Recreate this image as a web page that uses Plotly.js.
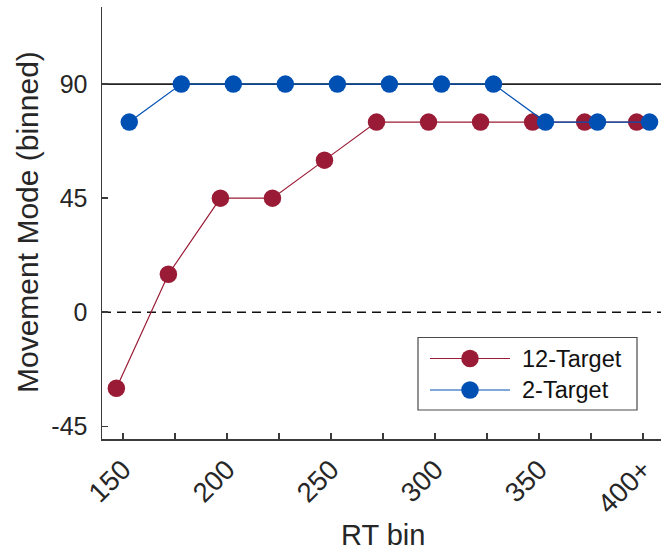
<!DOCTYPE html>
<html>
<head>
<meta charset="utf-8">
<script src="https://cdn.plot.ly/plotly-3.0.1.min.js"></script>
<style>html,body{margin:0;padding:0;background:#fff;}#chart{width:661px;height:552px;}</style>
</head>
<body>
<div id="chart"></div>
<script>
// RT bins (x categories, positioned numerically)
const rtBins = [150, 175, 200, 225, 250, 275, 300, 325, 350, 375, 400];
const tickLabels = ['150', '', '200', '', '250', '', '300', '', '350', '', '400+'];
// Movement mode (binned) per RT bin
const target12 = [-30, 15, 45, 45, 60, 75, 75, 75, 75, 75, 75];
const target2  = [75, 90, 90, 90, 90, 90, 90, 90, 75, 75, 75];
const seriesNames = ['12-Target', '2-Target'];
const yTicks = [-45, 0, 45, 90];
const yTickLabels = ['-45', '0', '45', '90'];
const refLevel = 90;
const zeroLevel = 0;

const DODGE = 3.1;
const red = '#9a1b35';
const blue = '#0050b4';
const axisCol = '#3a3a3a';
const txtCol = '#262626';
const fontFam = 'Liberation Sans, Arial, Helvetica, sans-serif';

// plot area geometry (px)
const M = {l: 102, r: 0, t: 7, b: 113};
const W = 661, H = 552;
const PW = W - M.l - M.r, PH = H - M.t - M.b;
const px2x = p => (p - M.l) / PW;
const px2y = p => (H - M.b - p) / PH;

const traces = [
  {
    x: rtBins.map(v => v - DODGE), y: target12, name: seriesNames[0],
    type: 'scatter', mode: 'lines+markers',
    line: {color: red, width: 1.2},
    marker: {color: red, size: 17.5},
    cliponaxis: false
  },
  {
    x: rtBins.map(v => v + DODGE), y: target2, name: seriesNames[1],
    type: 'scatter', mode: 'lines+markers',
    line: {color: blue, width: 1.2},
    marker: {color: blue, size: 17.5},
    cliponaxis: false
  }
];

// legend geometry (px)
const LG = {x0: 418, x1: 637, y0: 337.5, y1: 410, rows: [358.5, 390], lx0: 430, lx1: 510, mx: 470, tx: 520};
const legendColors = [red, blue];

const shapes = [
  {type: 'line', xref: 'paper', x0: 0, x1: 1, yref: 'y', y0: refLevel, y1: refLevel,
   line: {color: '#222', width: 1.8}, layer: 'below'},
  {type: 'line', xref: 'paper', x0: 0, x1: 1, yref: 'y', y0: zeroLevel, y1: zeroLevel,
   line: {color: '#111', width: 1.5, dash: '9px,6px'}, layer: 'below'},
  {type: 'rect', xref: 'paper', yref: 'paper',
   x0: px2x(LG.x0), x1: px2x(LG.x1), y0: px2y(LG.y1), y1: px2y(LG.y0),
   fillcolor: '#fff', line: {color: '#4a4a4a', width: 1.2}, layer: 'above'}
];
const annotations = [
  {text: 'Movement Mode (binned)', xref: 'paper', yref: 'paper',
   x: px2x(27), y: px2y(222), xanchor: 'center', yanchor: 'middle',
   textangle: -90, showarrow: false, font: {size: 30, color: txtCol}},
  {text: 'RT bin', xref: 'paper', yref: 'paper',
   x: px2x(383), y: px2y(535), xanchor: 'center', yanchor: 'middle',
   showarrow: false, font: {size: 29, color: txtCol}}
];
seriesNames.forEach((nm, i) => {
  const yy = px2y(LG.rows[i]);
  shapes.push({type: 'line', xref: 'paper', yref: 'paper',
    x0: px2x(LG.lx0), x1: px2x(LG.lx1), y0: yy, y1: yy,
    line: {color: legendColors[i], width: 1.2}, layer: 'above'});
  shapes.push({type: 'circle', xref: 'paper', yref: 'paper',
    xsizemode: 'pixel', ysizemode: 'pixel', xanchor: px2x(LG.mx), yanchor: yy,
    x0: -8.75, x1: 8.75, y0: -8.75, y1: 8.75,
    fillcolor: legendColors[i], line: {width: 0}, layer: 'above'});
  annotations.push({text: nm, xref: 'paper', yref: 'paper',
    x: px2x(LG.tx), y: yy, xanchor: 'left', yanchor: 'middle',
    showarrow: false, font: {size: 23.5, color: '#111'}});
});

const layout = {
  width: W, height: H,
  margin: M,
  paper_bgcolor: '#fff', plot_bgcolor: '#fff',
  font: {family: fontFam, color: txtCol, size: 25},
  showlegend: false,
  xaxis: {
    range: [140, 408.6],
    tickvals: rtBins, ticktext: tickLabels,
    tickangle: -45, ticklabelstandoff: 2,
    ticks: 'inside', ticklen: 6, tickwidth: 1.5, tickcolor: axisCol,
    showline: true, linecolor: axisCol, linewidth: 1.5,
    showgrid: false, zeroline: false,
    tickfont: {size: 27.5, color: txtCol}
  },
  yaxis: {
    range: [-50, 120.4],
    tickvals: yTicks, ticktext: yTickLabels,
    ticks: 'inside', ticklen: 6, tickwidth: 1.5, tickcolor: axisCol,
    showline: true, linecolor: axisCol, linewidth: 1.5,
    showgrid: false, zeroline: false,
    tickfont: {size: 25, color: txtCol},
    ticklabelstandoff: 8
  },
  shapes: shapes,
  annotations: annotations
};

Plotly.newPlot('chart', traces, layout, {displayModeBar: false, staticPlot: true});
</script>
</body>
</html>
